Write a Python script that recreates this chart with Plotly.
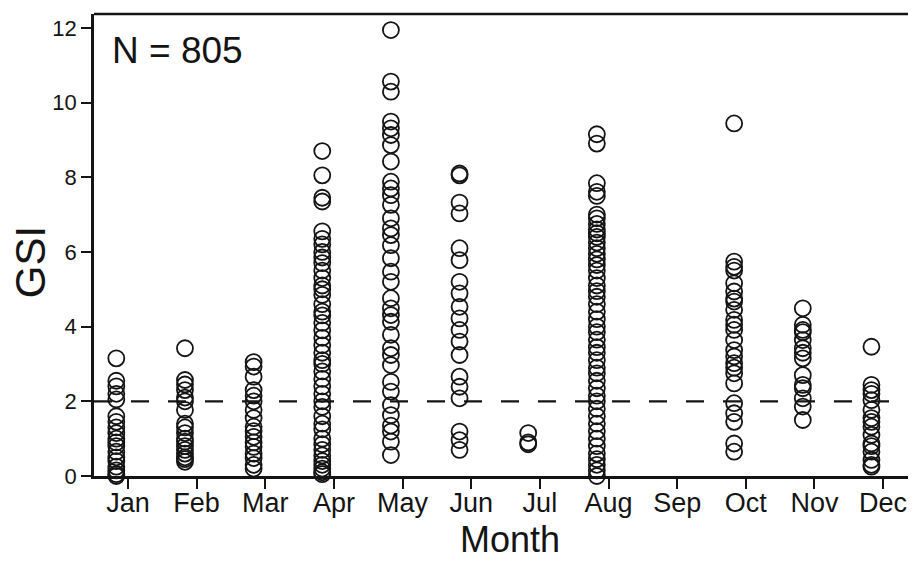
import plotly.graph_objects as go

month_names = ["Jan", "Feb", "Mar", "Apr", "May", "Jun", "Jul", "Aug", "Sep", "Oct", "Nov", "Dec"]
month_nums = list(range(1, 13))

jan = [3.15, 2.55, 2.4, 2.2, 2.05, 1.6, 1.45, 1.3, 1.15, 1.0, 0.9, 0.8, 0.65, 0.5, 0.4, 0.25, 0.15, 0.05, 0.0]
feb = [3.42, 2.57, 2.45, 2.3, 2.1, 2.0, 1.77, 1.4, 1.3, 1.15, 1.0, 0.92, 0.8, 0.7, 0.6, 0.5, 0.45, 0.38]
mar = [3.05, 2.93, 2.66, 2.3, 2.15, 2.0, 1.77, 1.55, 1.32, 1.2, 1.05, 0.9, 0.78, 0.6, 0.48, 0.3, 0.2]
apr = [8.7, 8.05, 7.45, 7.35, 6.55, 6.35, 6.2, 6.0, 5.85, 5.7, 5.5, 5.3, 5.1, 5.0, 4.85, 4.6, 4.4,
       4.3, 4.1, 3.9, 3.7, 3.5, 3.3, 3.1, 3.0, 2.8, 2.6, 2.4, 2.2, 2.0, 1.85, 1.6, 1.4, 1.25, 1.0,
       0.85, 0.7, 0.55, 0.4, 0.3, 0.2, 0.1, 0.05]
may = [11.94, 10.56, 10.29, 9.49, 9.31, 9.13, 8.86, 8.42, 7.88, 7.7, 7.52, 7.26, 6.9, 6.63, 6.45,
       6.18, 5.83, 5.47, 5.2, 4.76, 4.49, 4.31, 4.13, 3.78, 3.42, 3.24, 2.97, 2.52, 2.26, 1.9, 1.63,
       1.35, 1.19, 0.92, 0.56]
jun = [8.1, 8.05, 7.32, 7.03, 6.1, 5.78, 5.2, 4.89, 4.53, 4.22, 3.91, 3.6, 3.24, 2.66, 2.39, 2.08,
       1.19, 0.96, 0.7]
jul = [1.15, 0.9, 0.85]
aug = [9.15, 8.9, 7.84, 7.61, 7.5, 7.0, 6.9, 6.75, 6.6, 6.5, 6.4, 6.25, 6.1, 5.95, 5.8, 5.65, 5.5,
       5.3, 5.1, 4.95, 4.8, 4.6, 4.4, 4.2, 4.0, 3.85, 3.65, 3.45, 3.3, 3.1, 2.9, 2.75, 2.55, 2.35,
       2.15, 2.0, 1.8, 1.6, 1.4, 1.2, 1.0, 0.8, 0.6, 0.45, 0.3, 0.15, 0.0]
sep = []
oct_ = [9.44, 5.74, 5.6, 5.5, 5.16, 4.94, 4.75, 4.67, 4.45, 4.18, 4.05, 3.91, 3.64, 3.37, 3.2, 3.02,
        2.9, 2.75, 2.48, 1.95, 1.68, 1.45, 0.87, 0.65]
nov = [4.49, 4.05, 3.91, 3.85, 3.64, 3.42, 3.3, 3.15, 2.7, 2.44, 2.35, 2.08, 1.86, 1.5]
dec = [3.46, 2.44, 2.3, 2.2, 2.03, 1.77, 1.55, 1.32, 1.45, 1.1, 0.87, 0.8, 0.65, 0.43, 0.3, 0.25]

gsi_by_month = [jan, feb, mar, apr, may, jun, jul, aug, sep, oct_, nov, dec]
threshold = 2.0
n_label = "N = 805"

x_offset = -0.17
xs, ys = [], []
for m, vals in zip(month_nums, gsi_by_month):
    for v in vals:
        xs.append(m + x_offset)
        ys.append(v)

ink = "#141414"
font_family = "Liberation Sans, Arial, Helvetica, sans-serif"

fig = go.Figure()
fig.add_trace(go.Scatter(
    x=xs, y=ys, mode="markers",
    marker=dict(symbol="circle-open", size=16, color=ink, line=dict(width=1.8, color=ink)),
    cliponaxis=False, showlegend=False, hoverinfo="y",
))

fig.add_shape(type="line", xref="paper", yref="y", x0=0, x1=1, y0=threshold, y1=threshold,
              line=dict(color=ink, width=2.2, dash="18px,19px"))
# top frame line
fig.add_shape(type="line", xref="paper", yref="paper", x0=0, x1=1, y0=1, y1=1,
              line=dict(color=ink, width=2.5))

fig.update_layout(
    width=908, height=555,
    margin=dict(l=86, r=2, t=6, b=87),
    paper_bgcolor="white", plot_bgcolor="white",
    font=dict(family=font_family, color=ink),
    xaxis=dict(
        range=[0.505, 12.45], tickmode="array", tickvals=month_nums, ticktext=month_names,
        ticks="outside", ticklen=10, tickwidth=2, tickcolor=ink, ticklabelstandoff=-9,
        showline=True, linewidth=2.5, linecolor=ink, showgrid=False, zeroline=False,
        tickfont=dict(size=27, family=font_family, color=ink),
    ),
    yaxis=dict(
        range=[0, 12.37], tickmode="array", tickvals=[0, 2, 4, 6, 8, 10, 12],
        ticks="outside", ticklen=10, tickwidth=2, tickcolor=ink,
        showline=True, linewidth=2.5, linecolor=ink, showgrid=False, zeroline=False,
        tickfont=dict(size=22, family=font_family, color=ink),
    ),
    annotations=[
        dict(text="GSI", xref="paper", yref="paper", x=-0.078, y=0.463, textangle=-90,
             showarrow=False, font=dict(size=42, family=font_family, color=ink),
             xanchor="center", yanchor="middle"),
        dict(text="Month", xref="paper", yref="paper", x=0.507, y=-0.187,
             showarrow=False, font=dict(size=36, family=font_family, color=ink),
             xanchor="center", yanchor="bottom"),
        dict(text=n_label, xref="paper", yref="paper", x=0.0195, y=0.92,
             showarrow=False, font=dict(size=37, family=font_family, color=ink),
             xanchor="left", yanchor="middle"),
    ],
)

fig.write_html("out.html")
